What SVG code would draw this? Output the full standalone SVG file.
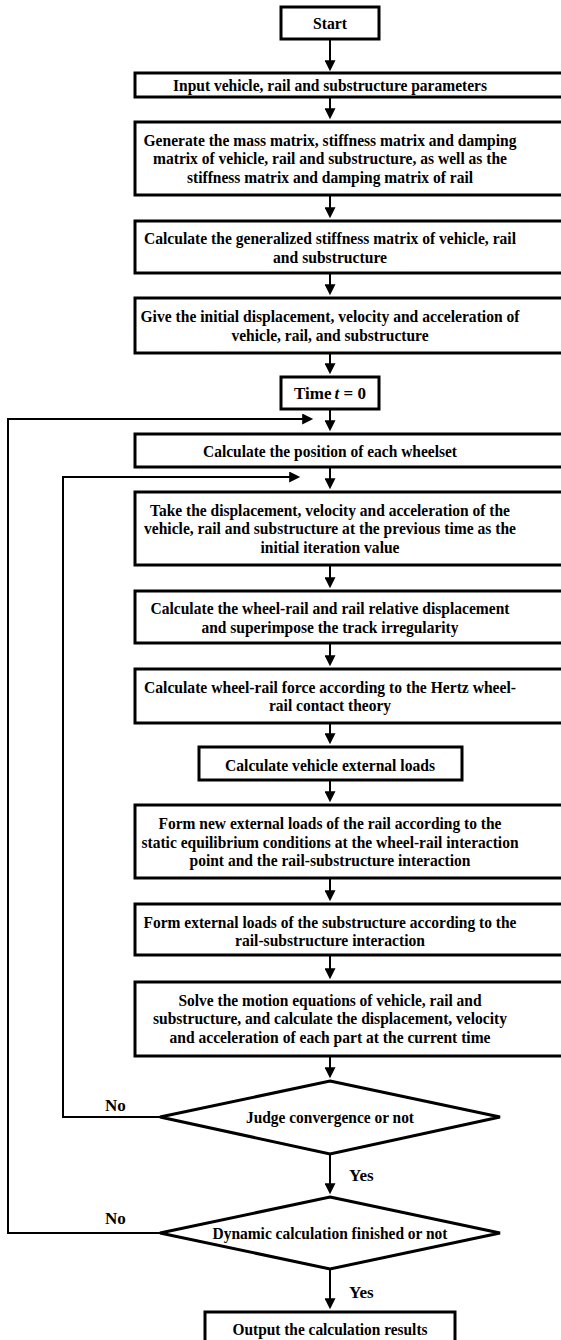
<svg xmlns="http://www.w3.org/2000/svg" width="561" height="1340" viewBox="0 0 561 1340">
<style>
  .box { fill: #fff; stroke: #000; stroke-width: 3; }
  .t { font-family: "Liberation Serif", "Times New Roman", serif; font-weight: bold; font-size: 17px; fill: #000; text-anchor: middle; }
  .ts { font-family: "Liberation Serif", "Times New Roman", serif; font-weight: bold; font-size: 17px; fill: #000; }
  .lbl { font-family: "Liberation Serif", "Times New Roman", serif; font-weight: bold; font-size: 17px; fill: #000; }
  .c { fill: none; stroke: #000; stroke-width: 2; marker-end: url(#ah); }
</style>
<defs>
  <marker id="ah" viewBox="0 0 12 12" refX="2" refY="6" markerWidth="12" markerHeight="11" markerUnits="userSpaceOnUse" orient="auto">
    <path d="M0,0 L12,6 L0,12 z" fill="#000"/>
  </marker>
</defs>
<rect width="561" height="1340" fill="#fff"/>

<g id="connectors">
  <line class="c" x1="330" y1="39" x2="330" y2="62"/>
  <line class="c" x1="330" y1="97" x2="330" y2="110"/>
  <line class="c" x1="330" y1="195" x2="330" y2="209"/>
  <line class="c" x1="330" y1="273" x2="330" y2="286"/>
  <line class="c" x1="330" y1="353" x2="330" y2="365"/>
  <line class="c" x1="330" y1="409" x2="330" y2="422"/>
  <line class="c" x1="330" y1="467" x2="330" y2="480"/>
  <line class="c" x1="330" y1="565" x2="330" y2="579"/>
  <line class="c" x1="330" y1="643" x2="330" y2="657"/>
  <line class="c" x1="330" y1="723" x2="330" y2="735"/>
  <line class="c" x1="330" y1="780" x2="330" y2="793"/>
  <line class="c" x1="330" y1="878" x2="330" y2="892"/>
  <line class="c" x1="330" y1="955" x2="330" y2="970"/>
  <line class="c" x1="330" y1="1056" x2="330" y2="1069"/>
  <line class="c" x1="330" y1="1154" x2="330" y2="1185"/>
  <line class="c" x1="330" y1="1269" x2="330" y2="1300"/>
  <polyline class="c" points="160,1117 63,1117 63,477 291,477"/>
  <polyline class="c" points="160,1233 8,1233 8,419 304,419"/>
  <text class="lbl" x="105" y="1111">No</text>
  <text class="lbl" x="105" y="1224">No</text>
  <text class="lbl" x="349" y="1181">Yes</text>
  <text class="lbl" x="349" y="1298">Yes</text>
</g>

<g id="start">
  <rect class="box" x="281" y="7" width="98" height="32"/>
  <text class="t" x="330" y="29" textLength="34" lengthAdjust="spacingAndGlyphs">Start</text>
</g>
<g id="input">
  <rect class="box" x="135" y="73" width="440" height="24"/>
  <text class="t" x="330" y="91" textLength="314" lengthAdjust="spacingAndGlyphs">Input vehicle, rail and substructure parameters</text>
</g>
<g id="generate">
  <rect class="box" x="135" y="122" width="440" height="73"/>
  <text class="t" x="330" y="146" textLength="373" lengthAdjust="spacingAndGlyphs">Generate the mass matrix, stiffness matrix and damping</text>
  <text class="t" x="330" y="164" textLength="354" lengthAdjust="spacingAndGlyphs">matrix of vehicle, rail and substructure, as well as the</text>
  <text class="t" x="330" y="183" textLength="286" lengthAdjust="spacingAndGlyphs">stiffness matrix and damping matrix of rail</text>
</g>
<g id="generalized">
  <rect class="box" x="135" y="221" width="440" height="52"/>
  <text class="t" x="330" y="244" textLength="372" lengthAdjust="spacingAndGlyphs">Calculate the generalized stiffness matrix of vehicle, rail</text>
  <text class="t" x="330" y="263" textLength="114" lengthAdjust="spacingAndGlyphs">and substructure</text>
</g>
<g id="initial">
  <rect class="box" x="135" y="298" width="440" height="55"/>
  <text class="t" x="330" y="322" textLength="379" lengthAdjust="spacingAndGlyphs">Give the initial displacement, velocity and acceleration of</text>
  <text class="t" x="330" y="341" textLength="197" lengthAdjust="spacingAndGlyphs">vehicle, rail, and substructure</text>
</g>
<g id="time">
  <rect class="box" x="281" y="377" width="98" height="32"/>
  <text class="ts" x="294" y="399">Time</text>
  <text class="ts" x="334.5" y="399" font-style="italic">t</text>
  <text class="ts" x="343.5" y="399">= 0</text>
</g>
<g id="position">
  <rect class="box" x="135" y="434" width="440" height="33"/>
  <text class="t" x="330" y="457" textLength="254" lengthAdjust="spacingAndGlyphs">Calculate the position of each wheelset</text>
</g>
<g id="take">
  <rect class="box" x="135" y="492" width="440" height="73"/>
  <text class="t" x="330" y="516" textLength="360" lengthAdjust="spacingAndGlyphs">Take the displacement, velocity and acceleration of the</text>
  <text class="t" x="330" y="534" textLength="372" lengthAdjust="spacingAndGlyphs">vehicle, rail and substructure at the previous time as the</text>
  <text class="t" x="330" y="553" textLength="139" lengthAdjust="spacingAndGlyphs">initial iteration value</text>
</g>
<g id="relative">
  <rect class="box" x="135" y="591" width="440" height="52"/>
  <text class="t" x="330" y="614" textLength="359" lengthAdjust="spacingAndGlyphs">Calculate the wheel-rail and rail relative displacement</text>
  <text class="t" x="330" y="633" textLength="257" lengthAdjust="spacingAndGlyphs">and superimpose the track irregularity</text>
</g>
<g id="hertz">
  <rect class="box" x="135" y="669" width="440" height="54"/>
  <text class="t" x="330" y="693" textLength="372" lengthAdjust="spacingAndGlyphs">Calculate wheel-rail force according to the Hertz wheel-</text>
  <text class="t" x="330" y="711" textLength="122" lengthAdjust="spacingAndGlyphs">rail contact theory</text>
</g>
<g id="vehicle-loads">
  <rect class="box" x="199" y="747" width="263" height="33"/>
  <text class="t" x="330" y="771" textLength="210" lengthAdjust="spacingAndGlyphs">Calculate vehicle external loads</text>
</g>
<g id="rail-loads">
  <rect class="box" x="135" y="805" width="440" height="73"/>
  <text class="t" x="330" y="829" textLength="343" lengthAdjust="spacingAndGlyphs">Form new external loads of the rail according to the</text>
  <text class="t" x="330" y="848" textLength="377" lengthAdjust="spacingAndGlyphs">static equilibrium conditions at the wheel-rail interaction</text>
  <text class="t" x="330" y="866" textLength="281" lengthAdjust="spacingAndGlyphs">point and the rail-substructure interaction</text>
</g>
<g id="sub-loads">
  <rect class="box" x="135" y="904" width="440" height="51"/>
  <text class="t" x="330" y="928" textLength="373" lengthAdjust="spacingAndGlyphs">Form external loads of the substructure according to the</text>
  <text class="t" x="330" y="946" textLength="190" lengthAdjust="spacingAndGlyphs">rail-substructure interaction</text>
</g>
<g id="solve">
  <rect class="box" x="135" y="982" width="440" height="74"/>
  <text class="t" x="330" y="1006" textLength="303" lengthAdjust="spacingAndGlyphs">Solve the motion equations of vehicle, rail and</text>
  <text class="t" x="330" y="1024" textLength="354" lengthAdjust="spacingAndGlyphs">substructure, and calculate the displacement, velocity</text>
  <text class="t" x="330" y="1043" textLength="321" lengthAdjust="spacingAndGlyphs">and acceleration of each part at the current time</text>
</g>
<g id="converge">
  <polygon class="box" points="330,1081 500,1117 330,1154 160,1117"/>
  <text class="t" x="330" y="1123" textLength="168" lengthAdjust="spacingAndGlyphs">Judge convergence or not</text>
</g>
<g id="finished">
  <polygon class="box" points="330,1197 500,1233 330,1269 160,1233"/>
  <text class="t" x="330" y="1239" textLength="235" lengthAdjust="spacingAndGlyphs">Dynamic calculation finished or not</text>
</g>
<g id="output">
  <rect class="box" x="205" y="1312" width="250" height="40"/>
  <text class="t" x="330" y="1335" textLength="195" lengthAdjust="spacingAndGlyphs">Output the calculation results</text>
</g>
</svg>
